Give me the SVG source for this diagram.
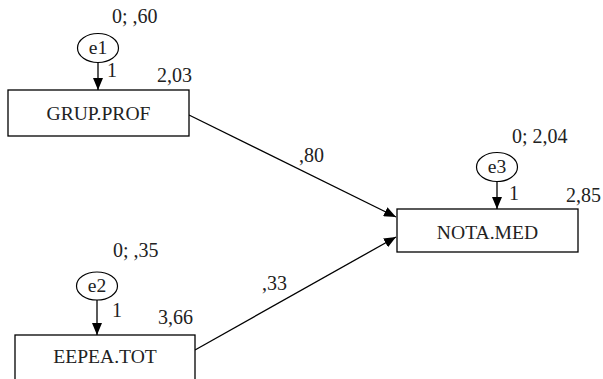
<svg xmlns="http://www.w3.org/2000/svg" width="603" height="379" viewBox="0 0 603 379">
<style>
text{font-family:"Liberation Serif","Times New Roman",serif;font-size:20px;fill:#222}
.n{text-anchor:middle;font-size:19.6px}
.box{fill:#fff;stroke:#000;stroke-width:1.3}
.err{fill:#fff;stroke:#000;stroke-width:1.2}
.c{stroke:#000;stroke-width:1.3;fill:none;marker-end:url(#ah)}
</style>
<defs>
<marker id="ah" markerWidth="12" markerHeight="10" refX="12" refY="5" orient="auto" markerUnits="userSpaceOnUse">
<path d="M0,0 L12,5 L0,10 Z" fill="#000"/>
</marker>
</defs>
<rect width="603" height="379" fill="#fff"/>
<g id="connectors">
<line class="c" x1="98" y1="63" x2="98" y2="90"/>
<line class="c" x1="497" y1="182" x2="497" y2="209"/>
<line class="c" x1="97" y1="300" x2="97" y2="335"/>
<line class="c" x1="189" y1="115" x2="396" y2="217"/>
<line class="c" x1="195" y1="350" x2="396" y2="237"/>
<text x="299" y="162">,80</text>
<text x="262" y="290">,33</text>
<text x="107" y="77">1</text>
<text x="509" y="200">1</text>
<text x="112" y="317">1</text>
</g>
<g id="e1">
<ellipse class="err" cx="98" cy="48" rx="20.5" ry="14.5"/>
<text class="n" x="98" y="54">e1</text>
<text x="112" y="23">0; ,60</text>
</g>
<g id="GRUP.PROF">
<rect class="box" x="8" y="90" width="181" height="46"/>
<text class="n" x="98.5" y="120">GRUP.PROF</text>
<text x="157" y="82">2,03</text>
</g>
<g id="e3">
<ellipse class="err" cx="497" cy="167" rx="20.5" ry="14.5"/>
<text class="n" x="497" y="173">e3</text>
<text x="512" y="143">0; 2,04</text>
</g>
<g id="NOTA.MED">
<rect class="box" x="397" y="209" width="181" height="43"/>
<text class="n" x="487.5" y="239">NOTA.MED</text>
<text x="566" y="202">2,85</text>
</g>
<g id="e2">
<ellipse class="err" cx="97" cy="286" rx="20.5" ry="14"/>
<text class="n" x="97" y="292">e2</text>
<text x="113" y="257">0; ,35</text>
</g>
<g id="EEPEA.TOT">
<rect class="box" x="15" y="335" width="180" height="50"/>
<text class="n" x="105" y="363">EEPEA.TOT</text>
<text x="158" y="324">3,66</text>
</g>
</svg>
